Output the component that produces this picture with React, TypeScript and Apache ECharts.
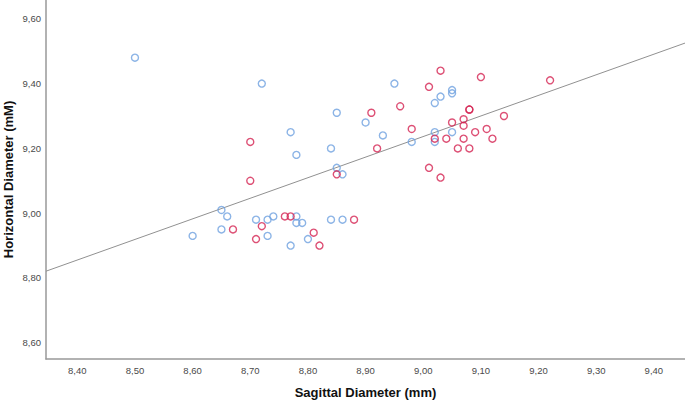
import React, { useEffect, useRef } from "react";
import * as echarts from "echarts";

const blueX = [8.50, 8.65, 8.66, 8.65, 8.60, 8.72, 8.95, 9.05, 9.05, 9.03, 9.02, 8.85, 8.90, 8.93, 8.77, 8.78, 8.84, 8.98, 9.02, 9.02, 9.05, 8.85, 8.86, 8.71, 8.73, 8.74, 8.78, 8.78, 8.79, 8.84, 8.86, 8.73, 8.80, 8.77];
const blueY = [9.48, 9.01, 8.99, 8.95, 8.93, 9.40, 9.40, 9.38, 9.37, 9.36, 9.34, 9.31, 9.28, 9.24, 9.25, 9.18, 9.20, 9.22, 9.25, 9.22, 9.25, 9.14, 9.12, 8.98, 8.98, 8.99, 8.99, 8.97, 8.97, 8.98, 8.98, 8.93, 8.92, 8.90];

const redX = [8.67, 9.03, 9.01, 9.10, 9.08, 9.08, 8.91, 8.96, 8.98, 8.70, 8.92, 9.02, 9.04, 9.05, 9.07, 9.07, 9.09, 9.07, 9.06, 9.08, 9.01, 9.03, 8.70, 8.85, 9.22, 9.14, 9.11, 9.12, 8.76, 8.77, 8.88, 8.72, 8.71, 8.81, 8.82];
const redY = [8.95, 9.44, 9.39, 9.42, 9.32, 9.32, 9.31, 9.33, 9.26, 9.22, 9.20, 9.23, 9.23, 9.28, 9.29, 9.27, 9.25, 9.23, 9.20, 9.20, 9.14, 9.11, 9.10, 9.12, 9.41, 9.30, 9.26, 9.23, 8.99, 8.99, 8.98, 8.96, 8.92, 8.94, 8.90];

const fitX = [8.3457, 9.454];
const fitY = [8.821, 9.525];

const xRange = [8.3457, 9.454];
const yRange = [8.55, 9.658];

const xTitle = "Sagittal Diameter (mm)";
const yTitle = "Horizontal Diameter (mM)";

const fmt = (v: number) => v.toFixed(2).replace(".", ",");

export default function App() {
  const ref = useRef<HTMLDivElement>(null);
  useEffect(() => {
    if (!ref.current) return;
    const chart = echarts.init(ref.current, null, { renderer: "svg" });
    const zip = (xs: number[], ys: number[]) => xs.map((x, i) => [x, ys[i]]);
    const labelStyle = {
      color: "#4a4a4a",
      fontSize: 9.5,
      fontFamily: "Liberation Sans, Arial, sans-serif",
      formatter: fmt,
      showMinLabel: false,
      showMaxLabel: false,
    };
    const nameStyle = {
      color: "#111",
      fontSize: 13,
      fontWeight: "bold" as const,
      fontFamily: "Liberation Sans, Arial, sans-serif",
    };
    chart.setOption({
      animation: false,
      backgroundColor: "#fff",
      grid: { left: 46, right: 0, top: 0, bottom: 42, containLabel: false, outerBoundsMode: "none" },
      xAxis: {
        type: "value",
        min: xRange[0],
        max: xRange[1],
        minInterval: 0.1,
        maxInterval: 0.1,
        splitNumber: 11,
        name: xTitle,
        nameLocation: "middle",
        nameGap: 27,
        nameMoveOverlap: false,
        nameTextStyle: nameStyle,
        axisLine: { show: true, lineStyle: { color: "#999", width: 1.5 } },
        axisTick: { show: false },
        splitLine: { show: false },
        axisLabel: { ...labelStyle, margin: 6 },
      },
      yAxis: {
        type: "value",
        min: yRange[0],
        max: yRange[1],
        minInterval: 0.2,
        maxInterval: 0.2,
        splitNumber: 6,
        name: yTitle,
        nameLocation: "middle",
        nameGap: 31,
        nameMoveOverlap: false,
        nameTextStyle: nameStyle,
        axisLine: { show: true, lineStyle: { color: "#999", width: 1.5 } },
        axisTick: { show: false },
        splitLine: { show: false },
        axisLabel: { ...labelStyle, margin: 5 },
      },
      series: [
        {
          type: "line",
          data: zip(fitX, fitY),
          showSymbol: false,
          symbol: "none",
          lineStyle: { color: "#919191", width: 1 },
          silent: true,
          z: 1,
        },
        {
          type: "scatter",
          data: zip(blueX, blueY),
          symbol: "circle",
          symbolSize: 7,
          itemStyle: { color: "rgba(0,0,0,0)", borderColor: "#6fa1e0", borderWidth: 1.4 },
          z: 2,
        },
        {
          type: "scatter",
          data: zip(redX, redY),
          symbol: "circle",
          symbolSize: 7,
          itemStyle: { color: "rgba(0,0,0,0)", borderColor: "#d42452", borderWidth: 1.4 },
          z: 3,
        },
      ],
    });
    return () => chart.dispose();
  }, []);
  return (
    <div
      ref={ref}
      style={{ position: "absolute", left: 0, top: 0, width: 685, height: 401, background: "#fff" }}
    />
  );
}
